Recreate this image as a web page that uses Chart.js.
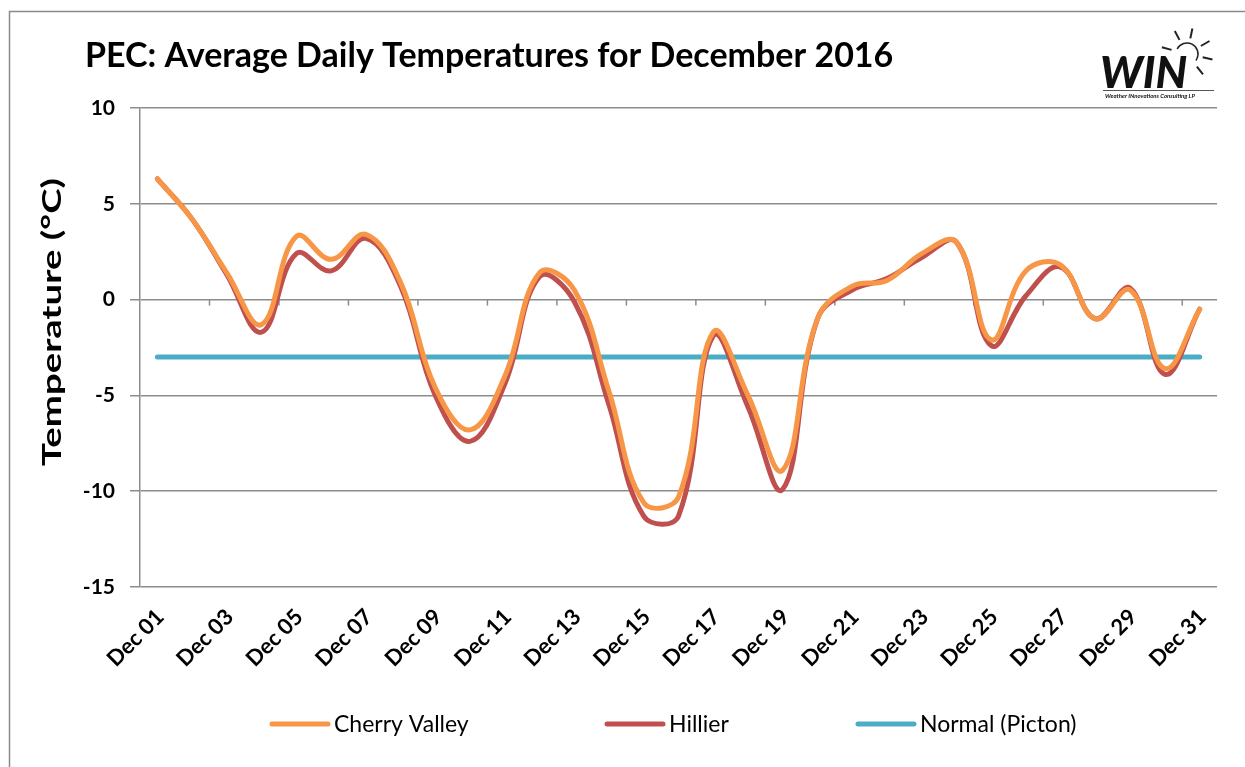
<!DOCTYPE html>
<html>
<head>
<meta charset="utf-8">
<script src="https://cdn.jsdelivr.net/npm/chart.js@4.4.1/dist/chart.umd.min.js"></script>
<style>
  html, body { margin: 0; padding: 0; background: #fff; }
  #wrap { width: 1245px; height: 767px; position: relative; }
</style>
</head>
<body>
<div id="wrap"><canvas id="chart" width="1245" height="767"></canvas></div>
<script>
// December 2016 daily averages (°C)
const days = ['Dec 01', 'Dec 02', 'Dec 03', 'Dec 04', 'Dec 05', 'Dec 06', 'Dec 07', 'Dec 08',
  'Dec 09', 'Dec 10', 'Dec 11', 'Dec 12', 'Dec 13', 'Dec 14', 'Dec 15', 'Dec 16', 'Dec 17',
  'Dec 18', 'Dec 19', 'Dec 20', 'Dec 21', 'Dec 22', 'Dec 23', 'Dec 24', 'Dec 25', 'Dec 26',
  'Dec 27', 'Dec 28', 'Dec 29', 'Dec 30', 'Dec 31'];
const cherryValley = [6.3, 4.2, 1.4, -1.3, 3.3, 2.1, 3.4, 0.9, -4.6, -6.8, -4.0, 1.4, 0.5, -4.8,
  -10.6, -10.3, -1.7, -5.0, -8.9, -1.0, 0.7, 1.0, 2.4, 3.0, -2.1, 1.5, 1.8, -1.0, 0.5, -3.6, -0.5];
const hillier = [6.3, 4.2, 1.3, -1.7, 2.4, 1.5, 3.2, 0.7, -5.0, -7.4, -4.4, 1.2, -0.1, -5.5,
  -11.3, -11.3, -1.9, -5.6, -9.9, -1.0, 0.5, 1.1, 2.2, 3.0, -2.4, 0.2, 1.7, -1.0, 0.6, -3.9, -0.5];
const normalPicton = [-3, -3, -3, -3, -3, -3, -3, -3, -3, -3, -3, -3, -3, -3, -3, -3,
  -3, -3, -3, -3, -3, -3, -3, -3, -3, -3, -3, -3, -3, -3, -3];
const yMin = -15;
const yMax = 10;
const yStep = 5;

const chartTitle = 'PEC: Average Daily Temperatures for December 2016';
const yTitle = 'Temperature (°C)';
const gridColor = '#8c8c8c';
const fontFamily = 'Lato, "Open Sans", sans-serif';

// frame, title, axis title and the WIN logo
const decorPlugin = {
  id: 'decor',
  beforeDraw(chart) {
    const ctx = chart.ctx;
    ctx.save();
    ctx.fillStyle = '#fff';
    ctx.fillRect(0, 0, chart.width, chart.height);
    ctx.strokeStyle = '#8a8a8a';
    ctx.lineWidth = 1.5;
    ctx.strokeRect(9.5, 11.5, chart.width + 20, chart.height + 20);

    ctx.fillStyle = '#000';
    ctx.font = 'bold 34px ' + fontFamily;
    ctx.textBaseline = 'alphabetic';
    ctx.textAlign = 'left';
    ctx.fillText(chartTitle, 85, 67);

    // the axis title in the original is drawn long and narrow
    ctx.translate(53, 322);
    ctx.rotate(-Math.PI / 2);
    ctx.font = 'bold 26px ' + fontFamily;
    ctx.textAlign = 'center';
    ctx.textBaseline = 'middle';
    const w = ctx.measureText(yTitle).width;
    ctx.scale(288 / w, 1);
    ctx.fillText(yTitle, 0, 0);
    ctx.restore();

    // logo
    ctx.save();
    ctx.fillStyle = '#111';
    ctx.font = 'italic 900 44px ' + fontFamily;
    ctx.textAlign = 'left';
    ctx.textBaseline = 'alphabetic';
    ctx.fillText('WIN', 1100, 88);
    ctx.strokeStyle = '#555';
    ctx.lineWidth = 1;
    ctx.beginPath();
    ctx.moveTo(1103, 90.5);
    ctx.lineTo(1214, 90.5);
    ctx.stroke();
    ctx.font = 'italic bold 6px ' + fontFamily;
    ctx.fillText('Weather INnovations Consulting LP', 1105, 98);
    const cx = 1187, cy = 54;
    ctx.strokeStyle = '#222';
    ctx.lineWidth = 1.5;
    ctx.beginPath();
    ctx.arc(cx, cy, 11, -Math.PI * 0.85, Math.PI * 0.2);
    ctx.stroke();
    ctx.lineWidth = 2;
    [-165, -118, -78, -30, 12, 52].forEach(a => {
      const r = a * Math.PI / 180;
      ctx.beginPath();
      ctx.moveTo(cx + Math.cos(r) * 16, cy + Math.sin(r) * 16);
      ctx.lineTo(cx + Math.cos(r) * 26, cy + Math.sin(r) * 26);
      ctx.stroke();
    });
    ctx.restore();
  }
};

// Excel style tick marks on the horizontal axis, which crosses at 0
const zeroAxisPlugin = {
  id: 'zeroAxisTicks',
  beforeDatasetsDraw(chart) {
    const xs = chart.scales.x, ys = chart.scales.y;
    const y0 = ys.getPixelForValue(0);
    const ctx = chart.ctx;
    ctx.save();
    ctx.strokeStyle = gridColor;
    ctx.lineWidth = 1.5;
    for (let i = 2; i < days.length; i += 2) {
      const px = (xs.getPixelForValue(i - 1) + xs.getPixelForValue(i)) / 2;
      ctx.beginPath();
      ctx.moveTo(px, y0);
      ctx.lineTo(px, y0 + 6);
      ctx.stroke();
    }
    ctx.restore();
  }
};

// legend drawn below the axis labels, spaced like the original
const legendPlugin = {
  id: 'wideLegend',
  afterDraw(chart) {
    const ctx = chart.ctx;
    const starts = [272, 607, 858];
    const ly = 724;
    ctx.save();
    ctx.font = '23px ' + fontFamily;
    ctx.textBaseline = 'middle';
    ctx.textAlign = 'left';
    chart.data.datasets.forEach((ds, i) => {
      ctx.strokeStyle = ds.borderColor;
      ctx.lineWidth = 5;
      ctx.lineCap = 'round';
      ctx.beginPath();
      ctx.moveTo(starts[i], ly);
      ctx.lineTo(starts[i] + 56, ly);
      ctx.stroke();
      ctx.fillStyle = '#000';
      ctx.fillText(ds.label, starts[i] + 62, ly + 1);
    });
    ctx.restore();
  }
};

const ctx = document.getElementById('chart').getContext('2d');
new Chart(ctx, {
  type: 'line',
  data: {
    labels: days,
    datasets: [
      { label: 'Cherry Valley', data: cherryValley, borderColor: '#F79646' },
      { label: 'Hillier', data: hillier, borderColor: '#C0504D' },
      { label: 'Normal (Picton)', data: normalPicton, borderColor: '#4BACC6' }
    ].map(d => Object.assign(d, {
      borderWidth: 5,
      tension: 0.4,
      pointRadius: 0,
      borderCapStyle: 'round',
      fill: false
    }))
  },
  options: {
    responsive: false,
    animation: false,
    layout: { padding: { left: 0, right: 28, top: 108, bottom: 0 } },
    plugins: {
      legend: { display: false },
      title: { display: false },
      tooltip: { enabled: false }
    },
    scales: {
      x: {
        offset: true,
        grid: { display: false, drawTicks: false },
        border: { display: false },
        ticks: {
          autoSkip: false,
          maxRotation: 45,
          minRotation: 45,
          padding: 17,
          labelOffset: 3,
          color: '#000',
          font: { family: fontFamily, size: 22, weight: 'bold' },
          callback: (v, i) => (i % 2 === 0 ? days[i] : '')
        },
        afterFit(scale) { scale.height = 180; }
      },
      y: {
        min: yMin,
        max: yMax,
        ticks: {
          stepSize: yStep,
          padding: 15,
          color: '#000',
          font: { family: fontFamily, size: 21, weight: 'bold' }
        },
        grid: { color: gridColor, lineWidth: 1.5, tickLength: 10 },
        border: { color: gridColor, width: 1.5 },
        afterFit(scale) { scale.width = 140; }
      }
    }
  },
  plugins: [decorPlugin, zeroAxisPlugin, legendPlugin]
});
</script>
</body>
</html>
